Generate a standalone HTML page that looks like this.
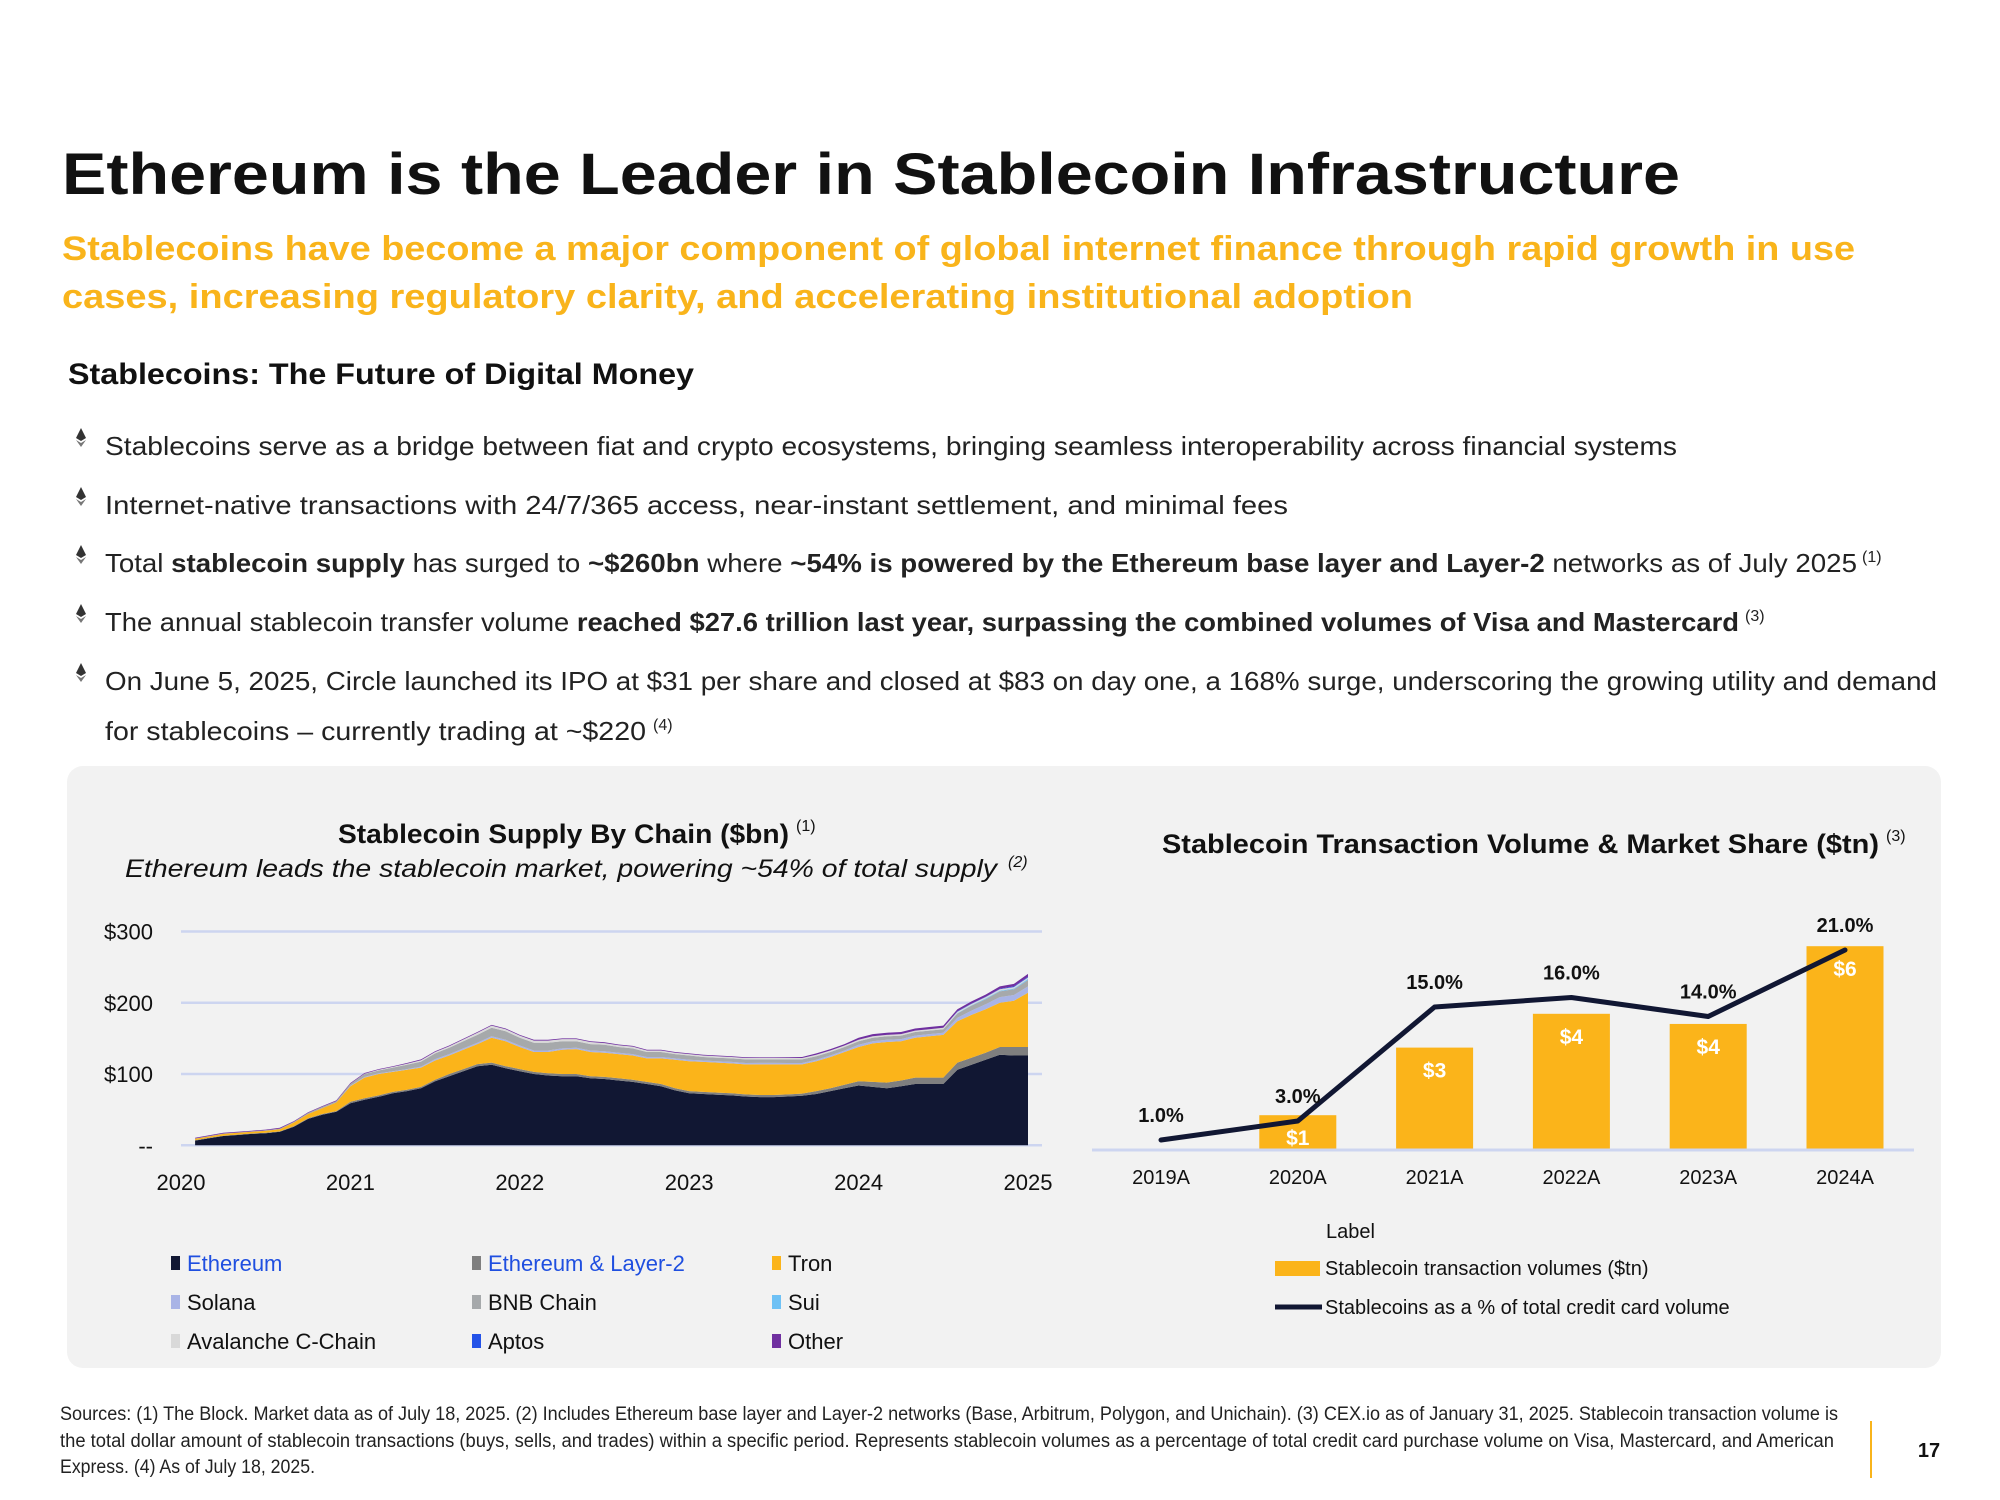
<!DOCTYPE html>
<html><head><meta charset="utf-8"><style>
html,body{margin:0;padding:0;background:#fff;}
svg{display:block;font-family:"Liberation Sans",sans-serif;}
</style></head><body>
<svg id="page" width="2000" height="1500" viewBox="0 0 2000 1500" xmlns="http://www.w3.org/2000/svg">
<text x="62" y="194" font-size="58" font-weight="bold" fill="#111" textLength="1618" lengthAdjust="spacingAndGlyphs">Ethereum is the Leader in Stablecoin Infrastructure</text>
<text x="62" y="260" font-size="34" font-weight="bold" fill="#F9B41B" textLength="1793" lengthAdjust="spacingAndGlyphs">Stablecoins have become a major component of global internet finance through rapid growth in use</text>
<text x="62" y="308" font-size="34" font-weight="bold" fill="#F9B41B" textLength="1351" lengthAdjust="spacingAndGlyphs">cases, increasing regulatory clarity, and accelerating institutional adoption</text>
<text x="68" y="384" font-size="30" font-weight="bold" fill="#111" textLength="626" lengthAdjust="spacingAndGlyphs">Stablecoins: The Future of Digital Money</text>

<g id="bullets" fill="#222" font-size="26">
<text x="105" y="455" textLength="1572" lengthAdjust="spacingAndGlyphs">Stablecoins serve as a bridge between fiat and crypto ecosystems, bringing seamless interoperability across financial systems</text>
<text x="105" y="514" textLength="1183" lengthAdjust="spacingAndGlyphs">Internet-native transactions with 24/7/365 access, near-instant settlement, and minimal fees</text>
<text x="105" y="572" textLength="1752" lengthAdjust="spacingAndGlyphs">Total <tspan font-weight="bold">stablecoin supply</tspan> has surged to <tspan font-weight="bold">~$260bn</tspan> where <tspan font-weight="bold">~54% is powered by the Ethereum base layer and Layer-2</tspan> networks as of July 2025</text>
<text x="1862" y="562" font-size="16">(1)</text>
<text x="105" y="631" textLength="1634" lengthAdjust="spacingAndGlyphs">The annual stablecoin transfer volume <tspan font-weight="bold">reached $27.6 trillion last year, surpassing the combined volumes of Visa and Mastercard</tspan></text>
<text x="1745" y="621" font-size="16">(3)</text>
<text x="105" y="690" textLength="1832" lengthAdjust="spacingAndGlyphs">On June 5, 2025, Circle launched its IPO at $31 per share and closed at $83 on day one, a 168% surge, underscoring the growing utility and demand</text>
<text x="105" y="740" textLength="541" lengthAdjust="spacingAndGlyphs">for stablecoins – currently trading at ~$220</text>
<text x="653" y="730" font-size="16">(4)</text>
</g>
<g id="bullet-icons"></g>

<rect x="67" y="766" width="1874" height="602" rx="16" fill="#f2f2f2"/>

<text x="338" y="843" font-size="27" font-weight="bold" fill="#111" textLength="451" lengthAdjust="spacingAndGlyphs">Stablecoin Supply By Chain ($bn)</text>
<text x="796" y="831" font-size="16" fill="#111">(1)</text>
<text x="125" y="877" font-size="25" font-style="italic" fill="#111" textLength="872" lengthAdjust="spacingAndGlyphs">Ethereum leads the stablecoin market, powering ~54% of total supply</text>
<text x="1008" y="867" font-size="16" font-style="italic" fill="#111">(2)</text>
<text x="1162" y="853" font-size="27" font-weight="bold" fill="#111" textLength="717" lengthAdjust="spacingAndGlyphs">Stablecoin Transaction Volume &amp; Market Share ($tn)</text>
<text x="1886" y="841" font-size="16" fill="#111">(3)</text>

<g id="left-chart"></g>
<g id="right-chart"></g>

<g id="left-legend" font-size="22" fill="#111"></g>

<text x="1326" y="1238" font-size="20" fill="#111">Label</text>
<rect x="1275" y="1261" width="45" height="15" fill="#FBB41A"/>
<text x="1325" y="1275" font-size="20" fill="#111">Stablecoin transaction volumes ($tn)</text>
<line x1="1275" y1="1307" x2="1322" y2="1307" stroke="#111733" stroke-width="5"/>
<text x="1325" y="1314" font-size="20" fill="#111">Stablecoins as a % of total credit card volume</text>

<g font-size="19" fill="#222">
<text x="60" y="1420" textLength="1778" lengthAdjust="spacingAndGlyphs">Sources: (1) The Block. Market data as of July 18, 2025. (2) Includes Ethereum base layer and Layer-2 networks (Base, Arbitrum, Polygon, and Unichain). (3) CEX.io as of January 31, 2025. Stablecoin transaction volume is</text>
<text x="60" y="1447" textLength="1774" lengthAdjust="spacingAndGlyphs">the total dollar amount of stablecoin transactions (buys, sells, and trades) within a specific period. Represents stablecoin volumes as a percentage of total credit card purchase volume on Visa, Mastercard, and American</text>
<text x="60" y="1473" textLength="255" lengthAdjust="spacingAndGlyphs">Express. (4) As of July 18, 2025.</text>
</g>
<line x1="1871" y1="1421" x2="1871" y2="1478" stroke="#F9B41B" stroke-width="2"/>
<text x="1929" y="1457" font-size="20" font-weight="bold" fill="#111" text-anchor="middle">17</text>
</svg>
<script>
const NS = "http://www.w3.org/2000/svg";
// ---------- Left chart data (monthly, Feb 2020 .. Jan 2025) ----------
const yTicks = [0, 100, 200, 300];
const yTickLabels = ["--", "$100", "$200", "$300"];
const xYears = ["2020", "2021", "2022", "2023", "2024", "2025"];
const seriesNames = ["Ethereum","Ethereum & Layer-2","Tron","Solana","BNB Chain","Sui","Avalanche C-Chain","Aptos","Other"];
const ethereum = [6.6,10,13,14.5,16,17,19,26,37,43,47,59,64,68,73,76,80,90,97,104,111,113,108,104,100,98,97,97,94,93,91,89,86,83,77,73,72,71,70,68.5,67.6,67.6,68.5,69.5,72,76,80,84,82,80,83,86,86,86,106,113,120,127,126,126];
const layer2 = [0.5,0.5,0.5,0.5,0.5,0.5,0.5,1,1,1,1,2,2,2,2,2,2,2,3,3,3,3,3,3,3,3,3,3,3,3,3,3,3,3,3,3,3,3,3,3,3,3,3,3,4,4,5,6,7,8,8,9,9,9,10,10,10,11,12,12];
const tron = [2,2,2.5,2.5,2.5,3,3,5,6,8,12,22,29,30,28,28,27,27,26,27,28,35,35,31,28,30,34,35,34,34,34,34,33,36,40,42,42,42,42,42,43,43,42,41,42,44,46,48,54,57,55,56,58,60,58,60,61,62,65,76];
const solana = [0,0,0,0,0,0,0,0,0,0,0,0.5,1,1,1,1,1.5,2,2,2,2,2,2,2,2,2,2,2,2,2,2,2,2,2,2,2,2,2,2,2,2,2,2,2,2,2,2,3,3,3,3,3,3,3,5,6,7,8,8,9];
const bnb = [0.5,0.5,0.5,0.5,0.5,0.5,1,1,1.5,2,2,3,4,4,5,6,7,8,9,10,11,12,12,11,11,11,10,9,9,9,8,8,7,7,6,6,5,5,5,5,5,5,5,5,5,5,5,5,5,5,5,5,5,5,6,7,7,8,8,9];
const sui = [0,0,0,0,0,0,0,0,0,0,0,0,0,0,0,0,0,0,0,0,0,0,0,0,0,0,0,0,0,0,0,0,0,0,0,0,0,0,0,0,0,0,0,0,0,0,0,0,0,0,0,0,0,0,0.5,0.5,1,1,1,1.5];
const avalanche = [0,0,0,0,0,0,0,0,0,0,0,0,0.5,1,1,1.5,2,2,2,2.5,3,3,3,3,3,3,3,3,3,2.5,2.5,2.5,2,2,2,2,2,2,2,2,2,2,2,2,2,2,2,2,2,2,2,2,2,2,2,2,2,2,2,2];
const aptos = [0,0,0,0,0,0,0,0,0,0,0,0,0,0,0,0,0,0,0,0,0,0,0,0,0,0,0,0,0,0,0,0,0,0,0,0,0,0,0,0,0,0,0,0,0,0,0,0,0,0,0,0,0,0,0.5,0.5,0.5,0.5,1,1];
const other = [1,1,1,1,1,1,1,1,1,1,1,1,1,1,1,1,1,1,1,1,1,1,1,1,1,1,1,1,1,1,1,1,1,1,1,1,1,1,1,1,1,1,1,1.5,2,2,2,3,3,3,3,3,3,3,3,3,3,3.5,3.5,4];
// ---------- Right chart data ----------
const volCategories = ["2019A","2020A","2021A","2022A","2023A","2024A"];
const volValues = [0, 1.0, 3.0, 4.0, 3.7, 6.0];
const volLabels = ["", "$1", "$3", "$4", "$4", "$6"];
const shareValues = [1.0, 3.0, 15.0, 16.0, 14.0, 21.0];
const shareLabels = ["1.0%","3.0%","15.0%","16.0%","14.0%","21.0%"];

const colors = ["#111733","#7f7f7f","#FBB41A","#a9b4e6","#a6a9ab","#6ec1f5","#d9d9d9","#2453e8","#7030a0"];
function mk(tag, attrs, parent){const e=document.createElementNS(NS,tag);for(const k in attrs)e.setAttribute(k,attrs[k]);parent.appendChild(e);return e;}

// bullet icons
const bi = document.getElementById('bullet-icons');
[437,496,554,613,672].forEach((cy,i)=>{
  const g = mk('g',{},bi);
  
  
  mk('polygon',{points:`81,${cy-9} 86,${cy+1} 81,${cy+4} 76,${cy+1}`,fill:'#333'},g);
  mk('polygon',{points:`76,${cy+3} 81,${cy+6} 86,${cy+3} 81,${cy+10}`,fill:'#777'},g);
});

// left chart
const L = document.getElementById('left-chart');
const x0 = 181, pxPerMonth = (1028-181)/60;
const yZero = 1145.3, pxPerBn = 0.7125;
const xS = m => x0 + m*pxPerMonth;
const yS = v => yZero - v*pxPerBn;
yTicks.forEach((t,i)=>{
  const ln = mk('line',{x1:181,x2:1042,y1:yS(t),y2:yS(t),stroke:'#cdd5f0','stroke-width':2.5},L);
  
  
  const tx = mk('text',{x:153,y:yS(t)+8,'font-size':22,'text-anchor':'end',fill:'#111'},L);
  tx.textContent = yTickLabels[i];
  
  
});
xYears.forEach((yr,i)=>{
  const tx = mk('text',{x:xS(i*12),y:1190,'font-size':22,'text-anchor':'middle',fill:'#111'},L);
  tx.textContent = yr;
  
  
});
const layers = [ethereum,layer2,tron,solana,bnb,sui,avalanche,aptos,other];
const n = ethereum.length;
let base = new Array(n).fill(0);
layers.forEach((arr,li)=>{
  const top = base.map((b,i)=>b+arr[i]);
  let d = '';
  for(let i=0;i<n;i++) d += (i?'L':'M')+xS(i+1).toFixed(1)+','+yS(top[i]).toFixed(1);
  for(let i=n-1;i>=0;i--) d += 'L'+xS(i+1).toFixed(1)+','+yS(base[i]).toFixed(1);
  d += 'Z';
  const p = mk('path',{d:d,fill:colors[li]},L);
  
  
  base = top;
});

// left legend
const LG = document.getElementById('left-legend');
const legCols = [175,476,776], legRows = [1263,1302,1341];
const legendOrder = [0,1,2,3,4,5,6,7,8];
legendOrder.forEach((si,k)=>{
  const cx = legCols[k%3], cy = legRows[Math.floor(k/3)];
  const g = mk('g',{},LG);
  
  
  mk('rect',{x:cx-4,y:cy-7,width:9,height:14,fill:colors[si]},g);
  const t = mk('text',{x:cx+12,y:cy+8,'font-size':22,fill:(si<2?'#1f4fe0':'#111')},g);
  t.textContent = seriesNames[si];
});

// right chart
const R = document.getElementById('right-chart');
const rx0 = 1161, rStep = 136.8, barW = 77, rBase = 1149, pxPerTn = 33.8, pxPerPct = 9.5;
const rx = i => rx0 + i*rStep;
const ryV = v => rBase - v*pxPerTn;
const ryP = p => rBase + 0.5 - p*pxPerPct;
volValues.forEach((v,i)=>{
  if(v>0){
    const b = mk('rect',{x:rx(i)-barW/2,y:ryV(v),width:barW,height:v*pxPerTn,fill:'#FBB41A'},R);
    
    
    const t = mk('text',{x:rx(i),y:ryV(v)+30,'font-size':21,'font-weight':'bold',fill:'#fff','text-anchor':'middle'},R);
    t.textContent = volLabels[i];
    
    
  }
  const xl = mk('text',{x:rx(i),y:1184,'font-size':20,fill:'#111','text-anchor':'middle'},R);
  xl.textContent = volCategories[i];
  
  
});
const ax = mk('line',{x1:1092,x2:1914,y1:rBase+1,y2:rBase+1,stroke:'#cdd5f0','stroke-width':3},R);


const pts = shareValues.map((p,i)=>rx(i).toFixed(1)+','+ryP(p).toFixed(1)).join(' ');
const pl = mk('polyline',{points:pts,fill:'none',stroke:'#111733','stroke-width':5,'stroke-linejoin':'round','stroke-linecap':'round'},R);


shareValues.forEach((p,i)=>{
  const t = mk('text',{x:rx(i),y:ryP(p)-18,'font-size':20,'font-weight':'bold',fill:'#111','text-anchor':'middle'},R);
  t.textContent = shareLabels[i];
  
  
});
</script>
</body></html>
